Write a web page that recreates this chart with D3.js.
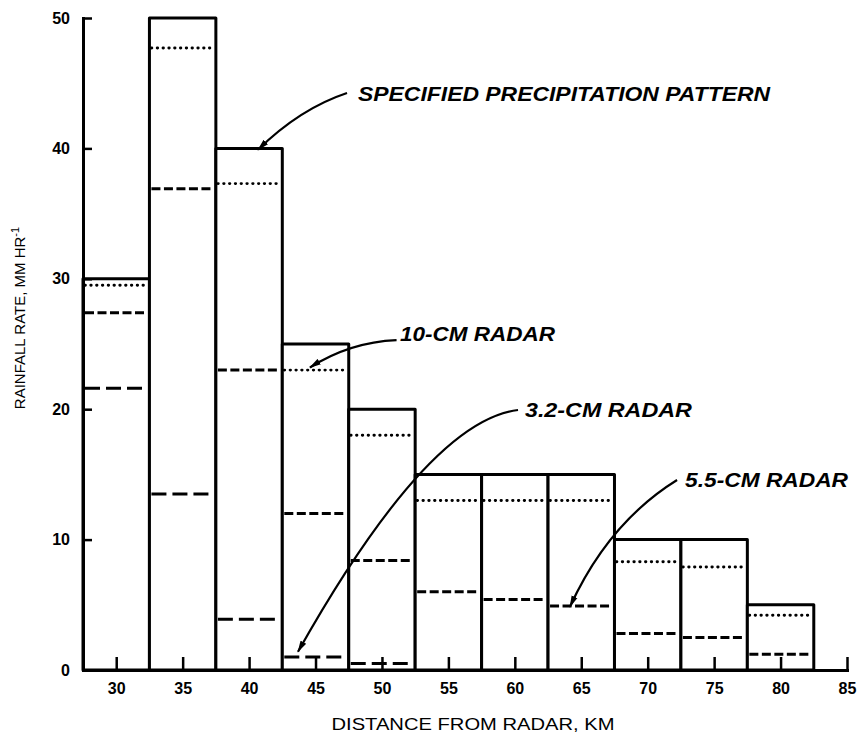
<!DOCTYPE html>
<html>
<head>
<meta charset="utf-8">
<script src="https://cdn.jsdelivr.net/npm/d3@7"></script>
<style>
  html, body { margin: 0; padding: 0; background: #fff; }
  svg { display: block; }
  text { font-family: "Liberation Sans", Arial, Helvetica, sans-serif; fill: #000; }
</style>
</head>
<body>
<svg id="chart" width="857" height="738"></svg>
<script>
// ---- data ----
const distances = [30, 35, 40, 45, 50, 55, 60, 65, 70, 75, 80];          // bin centres, km
const specified = [30, 50, 40, 25, 20, 15, 15, 15, 10, 10, 5];            // specified pattern, mm/hr
const radar10cm = [29.5, 47.7, 37.3, 23.0, 18.0, 13.0, 13.0, 13.0, 8.3, 7.9, 4.2];
const radar55cm = [27.4, 36.9, 23.0, 12.0, 8.4, 6.0, 5.4, 4.9, 2.8, 2.5, 1.2];
const radar32cm = [21.6, 13.5, 3.9, 1.0, 0.5, null, null, null, null, null, null];
const xTickValues = [30, 35, 40, 45, 50, 55, 60, 65, 70, 75, 80, 85];
const yTickValues = [0, 10, 20, 30, 40, 50];
const binHalf = 2.5;

// annotation anchors in data units (label, text pos, arrow start, control, tip)
const annLabels = ["SPECIFIED PRECIPITATION PATTERN", "10-CM RADAR", "3.2-CM RADAR", "5.5-CM RADAR"];
const annText   = [[48.2, 43.6], [51.35, 25.2], [60.76, 19.4], [72.81, 14.0]];
const annStart  = [[47.37, 44.25], [51.1, 25.3], [60.24, 19.94], [72.21, 14.57]];
const annCtrl   = [[43.84, 43.06], [47.6, 25.15], [53.46, 19.1], [67.05, 11.31]];
const annTip    = [[40.67, 39.9], [44.58, 23.2], [43.68, 1.4], [64.15, 4.85]];
const annWidth  = [412, 155, 167, 163];

// ---- layout ----
const svg = d3.select("#chart");
const x = d3.scaleLinear().domain([27.5, 85]).range([83, 847]);
const y = d3.scaleLinear().domain([0, 50]).range([670, 18]);

// specified pattern bars
svg.append("g").selectAll("rect")
  .data(distances)
  .join("rect")
  .attr("x", (d) => x(d - binHalf))
  .attr("width", (d) => x(d + binHalf) - x(d - binHalf))
  .attr("y", (d, i) => y(specified[i]))
  .attr("height", (d, i) => y(0) - y(specified[i]))
  .attr("fill", "#fff")
  .attr("stroke", "#000")
  .attr("stroke-width", 3)
  .attr("stroke-linejoin", "round");

function seriesLines(vals, dash, width, cap) {
  const data = distances.map((d, i) => ({ d, v: vals[i] })).filter((o) => o.v != null);
  svg.append("g").selectAll("line")
    .data(data)
    .join("line")
    .attr("x1", (o) => x(o.d - binHalf) + 2)
    .attr("x2", (o) => x(o.d + binHalf) - 2)
    .attr("y1", (o) => y(o.v))
    .attr("y2", (o) => y(o.v))
    .attr("stroke", "#000")
    .attr("stroke-width", width)
    .attr("stroke-linecap", cap)
    .attr("stroke-dasharray", dash);
}
seriesLines(radar10cm, "0.4,5.4", 2.9, "round");
seriesLines(radar55cm, "9,3.5", 3, "butt");
seriesLines(radar32cm, "15,6", 3, "butt");

// axes
const xAxis = d3.axisBottom(x).tickValues(xTickValues).tickSize(-13).tickSizeOuter(0).tickPadding(13);
const gx = svg.append("g").attr("transform", `translate(0,${y(0)})`).call(xAxis);
gx.selectAll("text").attr("font-size", 16).attr("font-weight", "bold")
  .style("font-family", "'Liberation Sans', Arial, sans-serif");

const yAxis = d3.axisLeft(y).tickValues(yTickValues).tickSize(-9).tickSizeOuter(0).tickPadding(13);
const gy = svg.append("g").attr("transform", `translate(${x(27.5)},0)`).call(yAxis);
gy.selectAll("text").attr("font-size", 16).attr("font-weight", "bold")
  .style("font-family", "'Liberation Sans', Arial, sans-serif");

[gx, gy].forEach((g) => {
  g.select(".domain").attr("stroke-width", 3).attr("stroke-linecap", "square");
  g.selectAll(".tick line").attr("stroke-width", 2.5);
});

// axis titles
svg.append("text")
  .attr("x", 473).attr("y", 730)
  .attr("text-anchor", "middle")
  .attr("font-size", 17)
  .attr("textLength", 283).attr("lengthAdjust", "spacingAndGlyphs")
  .text("DISTANCE FROM RADAR, KM");

const yt = svg.append("text")
  .attr("transform", "translate(25,318) rotate(-90)")
  .attr("text-anchor", "middle")
  .attr("font-size", 15);
yt.append("tspan").text("RAINFALL RATE, MM HR");
yt.append("tspan").attr("dy", -6).attr("font-size", 11).text("-1");

// annotations
svg.append("defs").append("marker")
  .attr("id", "arrow")
  .attr("markerUnits", "userSpaceOnUse")
  .attr("viewBox", "0 -4 12 8")
  .attr("refX", 11).attr("refY", 0)
  .attr("markerWidth", 12).attr("markerHeight", 8)
  .attr("orient", "auto")
  .append("path").attr("d", "M0,-3.2L12,0L0,3.2Z").attr("fill", "#000");

annLabels.forEach((label, i) => {
  const p = d3.path();
  p.moveTo(x(annStart[i][0]), y(annStart[i][1]));
  p.quadraticCurveTo(x(annCtrl[i][0]), y(annCtrl[i][1]), x(annTip[i][0]), y(annTip[i][1]));
  svg.append("path")
    .attr("d", p.toString())
    .attr("fill", "none")
    .attr("stroke", "#000")
    .attr("stroke-width", 2.2)
    .attr("marker-end", "url(#arrow)");
  svg.append("text")
    .attr("x", x(annText[i][0]))
    .attr("y", y(annText[i][1]))
    .attr("font-size", 21)
    .attr("font-weight", "bold")
    .attr("font-style", "italic")
    .attr("textLength", annWidth[i])
    .attr("lengthAdjust", "spacingAndGlyphs")
    .text(label);
});
</script>
</body>
</html>
